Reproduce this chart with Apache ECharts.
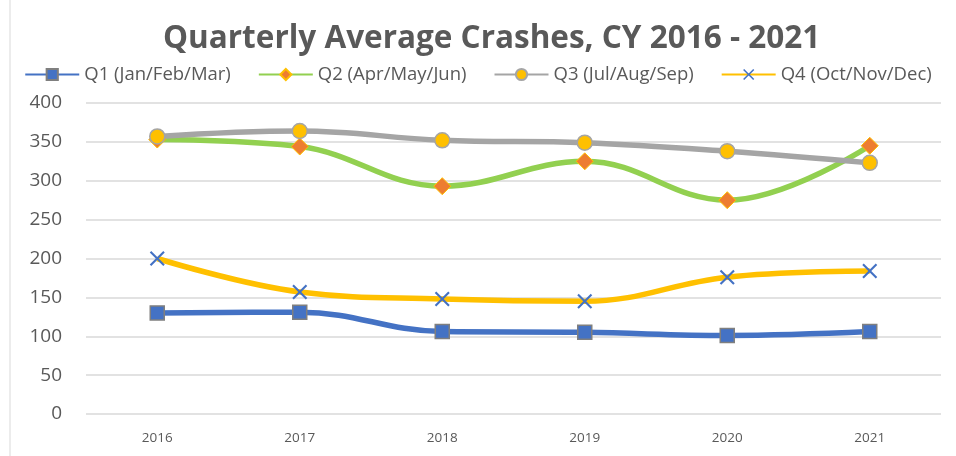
<!DOCTYPE html>
<html><head><meta charset="utf-8">
<script src="https://cdn.jsdelivr.net/npm/echarts@6/dist/echarts.min.js"></script>
<style>html,body{margin:0;padding:0;background:#fff}#c{width:956px;height:456px}</style>
</head><body><div id="c"></div>
<script>
const categories = ['2016','2017','2018','2019','2020','2021'];
const q1 = [130, 131, 106, 105, 101, 106];
const q2 = [353, 344, 293, 325, 275, 345];
const q3 = [357, 364, 352, 349, 338, 323];
const q4 = [200, 157, 148, 145, 176, 184];
const seriesNames = ['Q1 (Jan/Feb/Mar)','Q2 (Apr/May/Jun)','Q3 (Jul/Aug/Sep)','Q4 (Oct/Nov/Dec)'];
const yTicks = [0, 400, 50];

const chart = echarts.init(document.getElementById('c'));
const xPath = 'path://M0,1L1,0L5,4L9,0L10,1L6,5L10,9L9,10L5,6L1,10L0,9L4,5Z';
const font = 'Open Sans, Noto Sans, sans-serif';
chart.setOption({
  animation: false,
  title: {
    text: 'Quarterly Average Crashes, CY 2016 - 2021',
    left: 158, top: 18,
    textStyle: {fontFamily: font, fontSize: 31.5, fontWeight: 'bold', color: '#595959'}
  },
  legend: {
    top: 60, left: 'center', itemWidth: 54, itemHeight: 14, itemGap: 27,
    textStyle: {fontFamily: font, fontSize: 18.5, color: '#595959'},
    data: seriesNames
  },
  grid: {left: 86, right: 15, top: 103, bottom: 42},
  xAxis: {
    type: 'category', data: categories, boundaryGap: true,
    axisLine: {show: false}, axisTick: {show: false},
    axisLabel: {fontFamily: font, fontSize: 13.5, color: '#595959', margin: 17}
  },
  yAxis: {
    type: 'value', min: yTicks[0], max: yTicks[1], interval: yTicks[2],
    axisLine: {show: false}, axisTick: {show: false},
    axisLabel: {fontFamily: font, fontSize: 19, color: '#595959', margin: 24},
    splitLine: {lineStyle: {color: '#D9D9D9', width: 1.5}}
  },
  graphic: [{type: 'line', shape: {x1: 10, y1: 0, x2: 10, y2: 456}, style: {stroke: '#D9D9D9', lineWidth: 1}}],
  series: [
    {name: seriesNames[0], type: 'line', data: q1, smooth: 0.4, symbol: 'rect', symbolSize: 14,
     lineStyle: {color: '#4472C4', width: 5.5}, itemStyle: {color: '#4472C4', borderColor: '#7F7F7F', borderWidth: 1.5}},
    {name: seriesNames[1], type: 'line', data: q2, smooth: 0.4, symbol: 'diamond', symbolSize: 17,
     lineStyle: {color: '#92D050', width: 5.5}, itemStyle: {color: '#ED7D31', borderColor: '#FFC000', borderWidth: 1}},
    {name: seriesNames[2], type: 'line', data: q3, smooth: 0.4, symbol: 'circle', symbolSize: 15,
     lineStyle: {color: '#A5A5A5', width: 5.5}, itemStyle: {color: '#FFC000', borderColor: '#A5A5A5', borderWidth: 1.5}},
    {name: seriesNames[3], type: 'line', data: q4, smooth: 0.4, symbol: xPath, symbolSize: 15,
     lineStyle: {color: '#FFC000', width: 5.5}, itemStyle: {color: '#4472C4', borderWidth: 0}}
  ]
});
</script></body></html>
